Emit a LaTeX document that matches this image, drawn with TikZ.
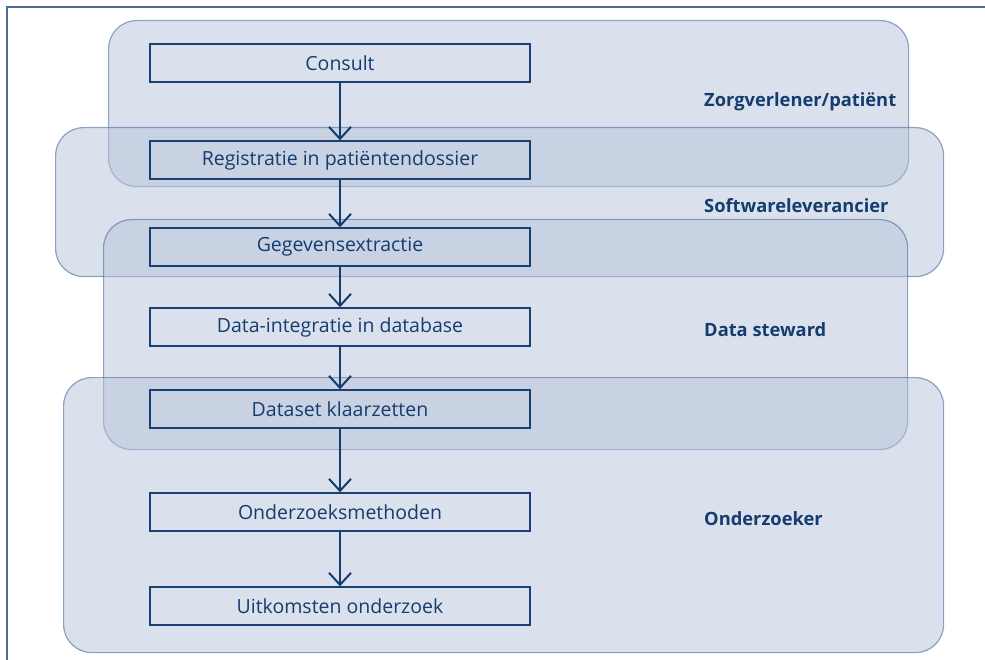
\documentclass[tikz,border=0pt]{standalone}
\usepackage{fontspec}
\setmainfont{Open Sans}
\usetikzlibrary{arrows.meta}
\definecolor{layerfill}{RGB}{183,195,218}
\definecolor{layerdraw}{RGB}{60,100,150}
\definecolor{boxblue}{RGB}{25,65,115}
\definecolor{frameblue}{RGB}{70,110,150}
\definecolor{labelblue}{RGB}{20,60,110}
\tikzset{
  layer/.style={rounded corners=28pt, fill=layerfill, fill opacity=0.5, draw=layerdraw, draw opacity=0.55, line width=1.2pt},
  stepbox/.style={draw=boxblue, line width=1.4pt, minimum width=380pt, minimum height=38pt, inner sep=0pt, text=labelblue, font=\fontsize{19.5}{22}\selectfont},
  rolelabel/.style={anchor=west, inner sep=0pt, text=labelblue, font=\fontsize{18.3}{21}\selectfont\bfseries},
  flow/.style={draw=labelblue, line width=2pt, -{Straight Barb[length=12pt,width=22pt,line width=2pt]}}
}
\begin{document}
\begin{tikzpicture}[x=1pt,y=-1pt]
\useasboundingbox (0,0) rectangle (985,660);
\draw[frameblue, line width=2pt] (7,700) -- (7,7) -- (1000,7);
\node[layer, minimum width=800pt, minimum height=166pt, anchor=north west] (zorg) at (108,20) {};
\node[layer, minimum width=888pt, minimum height=149pt, anchor=north west] (soft) at (55,127) {};
\node[layer, minimum width=804pt, minimum height=230pt, anchor=north west] (steward) at (103,219) {};
\node[layer, minimum width=880pt, minimum height=275pt, anchor=north west] (onder) at (63,377) {};
\node[stepbox] (consult) at (340,63) {Consult};
\node[stepbox] (reg) at (340,160) {Registratie in patiëntendossier};
\node[stepbox] (extr) at (340,247) {Gegevensextractie};
\node[stepbox] (integr) at (340,327) {Data-integratie in database};
\node[stepbox] (klaar) at (340,409) {Dataset klaarzetten};
\node[stepbox] (meth) at (340,512) {Onderzoeksmethoden};
\node[stepbox] (uitk) at (340,606) {Uitkomsten onderzoek};
\draw[flow] (consult) -- (reg);
\draw[flow] (reg) -- (extr);
\draw[flow] (extr) -- (integr);
\draw[flow] (integr) -- (klaar);
\draw[flow] (klaar) -- (meth);
\draw[flow] (meth) -- (uitk);
\node[rolelabel] (lzorg) at (704,102) {Zorgverlener/patiënt};
\node[rolelabel] (lsoft) at (704,206) {Softwareleverancier};
\node[rolelabel] (lsteward) at (704,330) {Data steward};
\node[rolelabel] (londer) at (704,519) {Onderzoeker};
\end{tikzpicture}
\end{document}
